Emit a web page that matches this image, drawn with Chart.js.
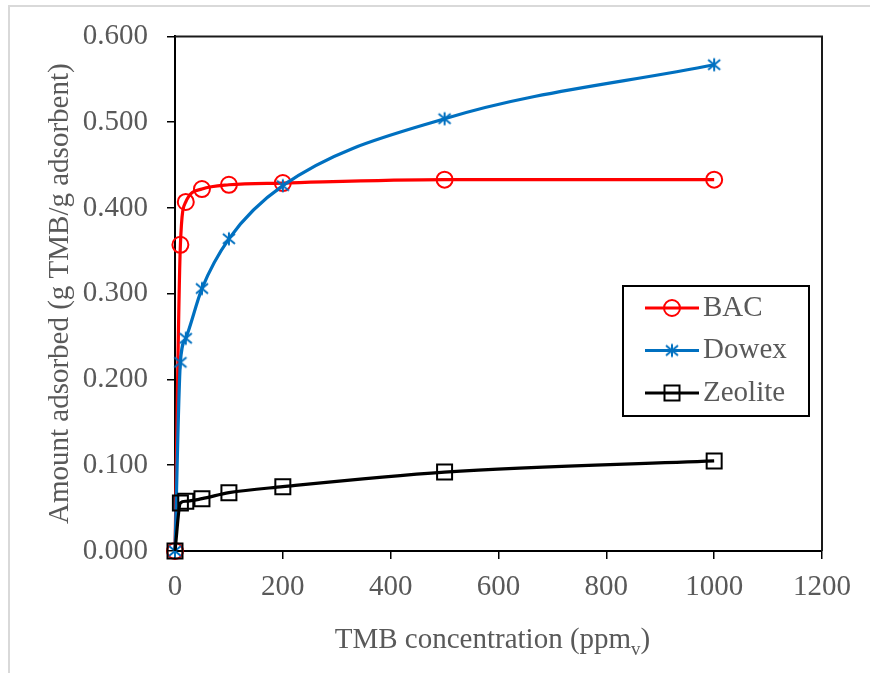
<!doctype html>
<html lang="en">
<head>
<meta charset="utf-8">
<title>TMB adsorption</title>
<style>
  html, body { margin: 0; padding: 0; background: #fff; }
  .chartBox { width: 870px; height: 673px; }
</style>
</head>
<body>
<div class="chartBox"><canvas id="myChart" width="870" height="673"></canvas></div>
<script src="https://cdn.jsdelivr.net/npm/chart.js"></script>
<script>
// data
const concentration = [0, 10, 20, 50, 100, 200, 500, 1000];
const bacValues = [0, 0.357, 0.407, 0.422, 0.427, 0.429, 0.433, 0.433];
const dowexValues = [0, 0.220, 0.248, 0.306, 0.364, 0.426, 0.504, 0.567];
const zeoliteValues = [0, 0.056, 0.058, 0.061, 0.068, 0.075, 0.092, 0.105];
const seriesNames = ['BAC', 'Dowex', 'Zeolite'];
const xTickValues = [0, 200, 400, 600, 800, 1000, 1200];
const yTickValues = [0, 0.1, 0.2, 0.3, 0.4, 0.5, 0.6];
const xTitle = ['TMB concentration (ppm', 'v', ')'];
const yTitle = 'Amount adsorbed (g TMB/g adsorbent)';

const FONT = '"Liberation Serif", "Times New Roman", serif';
const GREY = '#595959';

// excel-like asterisk marker (x + vertical bar)
function makeStar(color) {
  const c = document.createElement('canvas');
  c.width = 16; c.height = 16;
  const g = c.getContext('2d');
  g.strokeStyle = color;
  g.lineWidth = 2;
  g.beginPath();
  g.moveTo(8, 1.5); g.lineTo(8, 14.5);
  g.moveTo(2, 3); g.lineTo(14, 13);
  g.moveTo(14, 3); g.lineTo(2, 13);
  g.stroke();
  return c;
}
const starBlue = makeStar('#0070C0');

const toPoints = ys => concentration.map((x, i) => ({x: x, y: ys[i]}));

const data = {
  datasets: [{
    label: seriesNames[0],
    data: toPoints(bacValues),
    borderColor: '#FF0000',
    pointStyle: 'circle',
    pointRadius: 8,
    order: 3
  }, {
    label: seriesNames[1],
    data: toPoints(dowexValues),
    borderColor: '#0070C0',
    pointStyle: starBlue,
    pointRadius: 8,
    order: 2
  }, {
    label: seriesNames[2],
    data: toPoints(zeoliteValues),
    borderColor: '#000000',
    pointStyle: 'rect',
    pointRadius: 10.6,
    order: 1
  }]
};
data.datasets.forEach(ds => {
  ds.borderWidth = 3.2;
  ds.pointBorderWidth = 2;
  ds.pointBorderColor = ds.borderColor;
  ds.pointBackgroundColor = 'rgba(0,0,0,0)';
  ds.cubicInterpolationMode = 'monotone';
  ds.clip = false;
});

// outer light frame + plot box top/right edges
const framePlugin = {
  id: 'frame',
  beforeDraw(chart) {
    const ctx = chart.ctx;
    ctx.save();
    ctx.strokeStyle = '#d9d9d9';
    ctx.lineWidth = 2;
    ctx.beginPath();
    ctx.moveTo(9, chart.height);
    ctx.lineTo(9, 6);
    ctx.lineTo(chart.width, 6);
    ctx.stroke();
    ctx.restore();
  },
  afterDraw(chart) {
    const {ctx, chartArea: a} = chart;
    ctx.save();
    ctx.strokeStyle = '#1a1a1a';
    ctx.lineWidth = 2;
    ctx.beginPath();
    ctx.moveTo(a.left, a.top);
    ctx.lineTo(a.right, a.top);
    ctx.lineTo(a.right, a.bottom);
    ctx.stroke();
    ctx.restore();
  }
};

// x axis title with subscript v
const xTitlePlugin = {
  id: 'xTitle',
  afterDraw(chart) {
    const {ctx, chartArea: a} = chart;
    ctx.save();
    ctx.fillStyle = GREY;
    ctx.textBaseline = 'alphabetic';
    ctx.textAlign = 'left';
    const big = '29px ' + FONT, small = '19px ' + FONT;
    ctx.font = big;
    const w0 = ctx.measureText(xTitle[0]).width;
    const w2 = ctx.measureText(xTitle[2]).width;
    ctx.font = small;
    const w1 = ctx.measureText(xTitle[1]).width;
    let x = (a.left + a.right) / 2 - 6 - (w0 + w1 + w2) / 2;
    const y = 648;
    ctx.font = big;
    ctx.fillText(xTitle[0], x, y);
    x += w0;
    ctx.font = small;
    ctx.fillText(xTitle[1], x, y + 7);
    x += w1;
    ctx.font = big;
    ctx.fillText(xTitle[2], x, y);
    ctx.restore();
  }
};

// boxed legend inside the plot
const legendPlugin = {
  id: 'boxLegend',
  afterDraw(chart) {
    const ctx = chart.ctx;
    const bx = 623, by = 286, bw = 186, bh = 130;
    ctx.save();
    ctx.fillStyle = '#fff';
    ctx.fillRect(bx, by, bw, bh);
    ctx.strokeStyle = '#000';
    ctx.lineWidth = 2;
    ctx.strokeRect(bx, by, bw, bh);
    chart.data.datasets.forEach((ds, i) => {
      const y = 308 + i * 42.5;
      const x0 = 645, x1 = 699, xm = (x0 + x1) / 2;
      ctx.strokeStyle = ds.borderColor;
      ctx.lineWidth = 3.2;
      ctx.beginPath();
      ctx.moveTo(x0, y); ctx.lineTo(x1, y);
      ctx.stroke();
      ctx.lineWidth = 2;
      if (ds.pointStyle === 'circle') {
        ctx.beginPath();
        ctx.arc(xm, y, 8, 0, Math.PI * 2);
        ctx.stroke();
      } else if (ds.pointStyle === 'rect') {
        ctx.strokeRect(xm - 7.5, y - 7.5, 15, 15);
      } else {
        ctx.drawImage(ds.pointStyle, xm - 8, y - 8);
      }
      ctx.fillStyle = GREY;
      ctx.font = '29px ' + FONT;
      ctx.textBaseline = 'middle';
      ctx.textAlign = 'left';
      ctx.fillText(ds.label, 703, y);
    });
    ctx.restore();
  }
};

const config = {
  type: 'line',
  data,
  options: {
    responsive: false,
    animation: false,
    layout: { padding: { top: 35, right: 48, bottom: 0, left: 0 } },
    scales: {
      x: {
        type: 'linear',
        min: 0,
        max: 1200,
        afterBuildTicks: s => { s.ticks = xTickValues.map(v => ({value: v})); },
        afterFit: s => { s.height = 122; },
        grid: { drawOnChartArea: false, tickLength: 8, color: '#000', lineWidth: 1.5 },
        border: { display: true, color: '#000', width: 2 },
        ticks: {
          padding: 11, color: GREY, font: { family: FONT, size: 29 }, maxRotation: 0,
          callback: v => String(v)
        }
      },
      y: {
        type: 'linear',
        min: 0,
        max: 0.6,
        afterBuildTicks: s => { s.ticks = yTickValues.map(v => ({value: v})); },
        afterFit: s => { s.width = 175; },
        grid: { drawOnChartArea: false, tickLength: 8, color: '#000', lineWidth: 1.5 },
        border: { display: true, color: '#000', width: 2 },
        ticks: {
          padding: 19, color: GREY, font: { family: FONT, size: 29 },
          callback: v => v.toFixed(3)
        },
        title: {
          display: true, text: yTitle, color: GREY,
          font: { family: FONT, size: 29 },
          padding: { top: 43, bottom: 0 }
        }
      }
    },
    plugins: {
      legend: { display: false },
      tooltip: { enabled: false }
    }
  },
  plugins: [framePlugin, xTitlePlugin, legendPlugin]
};

const myChart = new Chart(document.getElementById('myChart'), config);
</script>
</body>
</html>
